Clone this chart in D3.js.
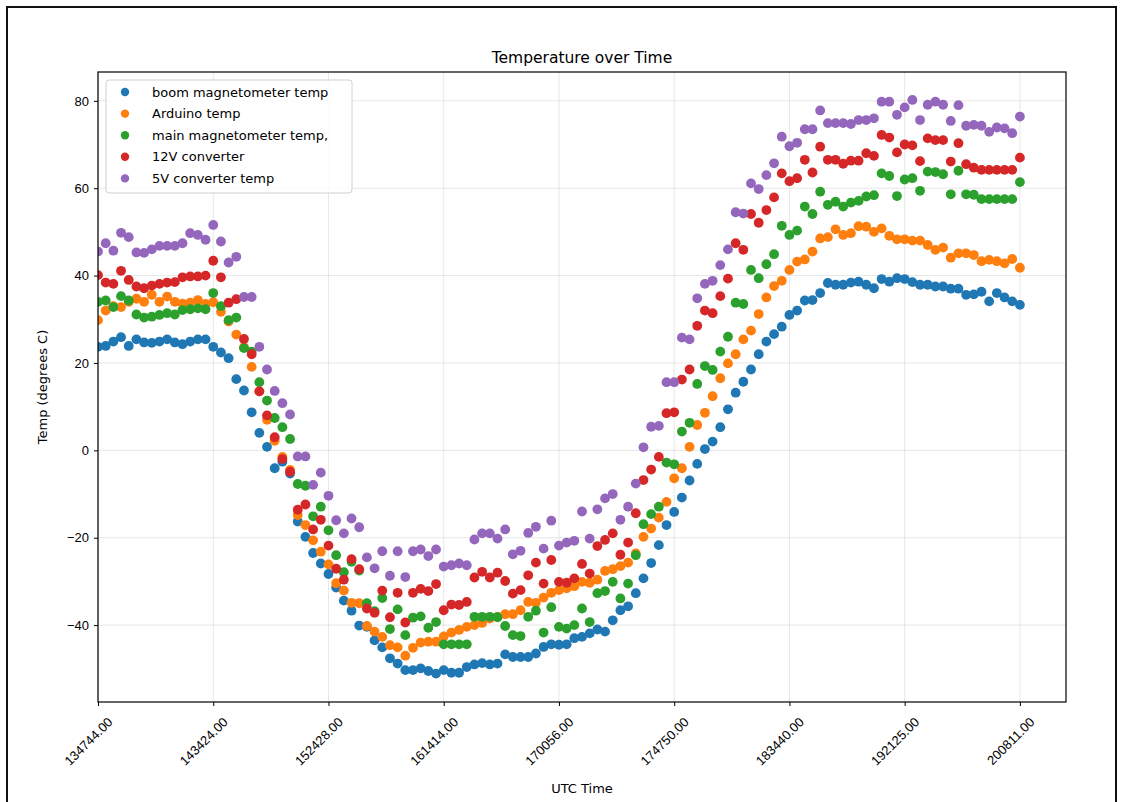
<!DOCTYPE html>
<html>
<head>
<meta charset="utf-8">
<script src="https://cdn.jsdelivr.net/npm/d3@7"></script>
<style>
  body { margin: 0; background: #fff; }
  svg { display: block; font-family: "DejaVu Sans", sans-serif; }
</style>
</head>
<body>
<div id="wrapper"></div>
<script>
// tick labels (UTC time strings), one every 15 samples
const tickLabels = ["134744.00", "143424.00", "152428.00", "161414.00", "170056.00",
    "174750.00", "183440.00", "192125.00", "200811.00"];
const tickEvery = 15;

const seriesNames = ["boom magnetometer temp", "Arduino temp", "main magnetometer temp,",
    "12V converter", "5V converter temp"];
const seriesColors = ["#1f77b4", "#ff7f0e", "#2ca02c", "#d62728", "#9467bd"];

const boomMag = [23.7, 23.9, 24.9, 25.9, 23.9, 25.4, 24.7, 24.6, 24.9, 25.4, 24.7, 24.3, 24.9, 25.4, 25.4,
    23.7, 22.4, 21.1, 16.3, 13.7, 8.7, 4.0, 0.8, -4.1, -2.6, -5.3, -16.3, -19.8, -23.5, -25.9,
    -28.3, -31.4, -34.4, -36.7, -40.1, -40.4, -43.5, -45.1, -47.6, -48.8, -50.3, -50.3, -49.9, -50.5, -51.1,
    -50.3, -50.9, -50.9, -49.6, -49.0, -48.7, -49.0, -48.8, -46.7, -47.3, -47.3, -47.3, -46.5, -45.0, -44.4,
    -44.5, -44.4, -43.0, -42.7, -41.9, -41.0, -41.5, -38.9, -36.6, -35.7, -32.7, -29.3, -25.8, -21.7, -17.1,
    -14.1, -10.8, -6.9, -3.1, 0.3, 2.0, 5.3, 9.4, 13.2, 15.7, 18.5, 22.0, 24.9, 26.6, 28.3,
    31.0, 32.0, 34.3, 34.4, 36.0, 38.3, 37.9, 37.9, 38.4, 38.6, 37.9, 37.1, 39.2, 38.6, 39.4,
    39.2, 38.5, 37.9, 37.9, 37.5, 37.5, 37.0, 37.0, 35.6, 35.7, 36.3, 34.1, 36.0, 35.0, 34.1,
    33.3];

const arduino = [29.8, 32.0, 33.0, 32.8, 34.0, 34.7, 34.0, 35.6, 34.0, 35.2, 34.0, 33.6, 33.8, 34.4, 33.5,
    33.9, 31.7, 29.5, 26.5, 23.6, 19.1, 13.5, 7.0, 2.2, -1.5, -4.5, -14.8, -17.1, -20.6, -23.2,
    -26.1, -30.4, -32.1, -34.9, -35.0, -40.2, -41.5, -42.7, -44.6, -45.1, -47.0, -45.2, -44.0, -43.8, -43.8,
    -42.6, -41.7, -41.1, -40.4, -40.0, -39.5, -38.5, -38.1, -37.5, -37.5, -36.6, -34.7, -34.9, -33.7, -32.6,
    -32.0, -31.6, -31.1, -30.1, -30.3, -29.6, -27.6, -27.2, -26.5, -25.7, -23.6, -19.8, -17.9, -15.4, -11.8,
    -6.4, -4.1, 0.8, 5.8, 8.6, 12.4, 16.5, 19.9, 22.0, 25.4, 27.4, 31.2, 35.0, 37.6, 38.8,
    41.3, 43.2, 43.7, 45.5, 48.5, 48.8, 50.6, 49.3, 49.7, 51.3, 51.2, 50.0, 50.8, 49.1, 48.3,
    48.3, 48.0, 48.0, 47.0, 45.9, 46.4, 44.1, 45.1, 45.1, 44.7, 43.3, 43.6, 43.3, 42.8, 43.8,
    41.8];

const mainMag = [34.0, 34.3, 32.8, 35.3, 34.3, 31.1, 30.4, 30.6, 31.0, 31.4, 31.1, 32.1, 32.3, 32.5, 32.3,
    36.0, 33.0, 29.8, 30.4, 23.4, 22.6, 15.6, 11.4, 7.4, 5.3, 2.6, -7.7, -8.1, -15.1, -12.9,
    -18.3, -24.0, -27.9, -25.5, -27.5, -35.0, -36.8, -33.8, -40.9, -36.4, -42.3, -38.3, -38.0, -40.6, -39.3,
    -44.4, -44.4, -44.4, -44.4, -38.1, -38.1, -38.1, -38.2, -40.2, -42.3, -42.5, -38.1, -36.7, -41.7, -35.9,
    -40.4, -40.8, -40.0, -36.2, -39.3, -32.7, -32.2, -30.1, -33.9, -30.5, -24.0, -16.9, -14.6, -12.9, -2.8,
    -3.2, 4.3, 6.3, 15.2, 19.3, 18.4, 22.6, 26.0, 33.8, 33.5, 41.3, 39.4, 42.6, 44.9, 51.4,
    49.3, 50.3, 55.8, 54.1, 59.2, 56.2, 56.9, 55.8, 56.7, 57.1, 58.1, 58.4, 63.4, 62.8, 58.2,
    62.0, 62.3, 59.4, 63.8, 63.7, 63.2, 58.6, 64.0, 58.6, 58.5, 57.5, 57.5, 57.5, 57.5, 57.5,
    61.4];

const conv12V = [40.1, 38.4, 38.1, 41.1, 39.0, 37.5, 37.1, 37.7, 38.1, 38.4, 38.5, 39.6, 39.8, 39.8, 40.0,
    43.4, 39.6, 33.8, 34.6, 25.5, 22.0, 13.5, 8.0, 3.0, -2.0, -4.9, -13.6, -12.4, -18.1, -15.9,
    -21.8, -27.1, -29.6, -24.9, -27.2, -36.2, -37.2, -32.1, -38.2, -32.6, -39.4, -32.6, -31.7, -32.2, -30.6,
    -36.6, -35.3, -35.4, -34.7, -29.1, -27.8, -29.1, -28.0, -29.9, -32.8, -32.0, -28.6, -25.7, -30.5, -25.1,
    -30.1, -30.3, -29.3, -26.0, -28.2, -21.9, -20.5, -19.0, -23.9, -21.1, -14.4, -6.8, -4.4, -1.5, 8.5,
    8.7, 16.2, 18.5, 28.5, 32.0, 31.4, 35.3, 39.3, 47.4, 45.9, 54.1, 52.1, 55.0, 57.9, 63.4,
    61.6, 62.3, 66.5, 63.6, 69.5, 66.5, 66.5, 65.6, 66.3, 66.3, 68.0, 67.4, 72.2, 71.6, 68.2,
    70.0, 69.8, 66.2, 71.4, 71.0, 71.0, 66.1, 70.3, 65.5, 64.7, 64.2, 64.2, 64.2, 64.2, 64.2,
    67.0];

const conv5V = [45.5, 47.4, 45.7, 49.8, 48.8, 45.3, 45.2, 46.0, 46.8, 46.8, 46.8, 47.4, 49.7, 49.3, 48.2,
    51.6, 47.8, 43.0, 44.3, 35.1, 35.1, 23.7, 18.5, 13.6, 10.8, 8.2, -1.4, -1.4, -7.9, -5.1,
    -10.4, -16.0, -19.0, -15.6, -17.6, -24.5, -27.0, -23.1, -28.7, -23.1, -29.0, -23.1, -22.7, -24.2, -22.7,
    -26.6, -26.3, -25.9, -26.3, -20.4, -19.0, -19.0, -20.2, -18.1, -23.8, -23.0, -18.9, -17.5, -22.5, -16.1,
    -21.8, -21.1, -20.7, -14.0, -20.2, -13.5, -11.0, -10.0, -15.9, -12.9, -7.6, 0.7, 5.4, 5.6, 15.6,
    15.6, 25.8, 25.4, 34.8, 38.1, 38.8, 42.4, 46.0, 54.5, 54.2, 61.1, 59.8, 63.0, 65.7, 71.8,
    69.6, 70.4, 73.5, 73.5, 77.8, 74.9, 74.9, 74.9, 74.7, 75.6, 75.6, 76.0, 79.8, 79.8, 76.8,
    78.5, 80.2, 75.6, 79.1, 79.8, 79.1, 75.4, 79.0, 74.3, 74.5, 74.3, 72.9, 73.9, 73.7, 72.6,
    76.4];

const yTicks = [-40, -20, 0, 20, 40, 60, 80];

function buildPlot() {
    const allSeries = [boomMag, arduino, mainMag, conv12V, conv5V];

    const dimension = {
        width: 1122,
        height: 802,
        margin: { top: 72, left: 98, bottom: 100, right: 56 }
    };
    dimension.boundedWidth = dimension.width - dimension.margin.left - dimension.margin.right;
    dimension.boundedHeight = dimension.height - dimension.margin.top - dimension.margin.bottom;

    const svg = d3.select("#wrapper").append("svg")
        .attr("width", dimension.width)
        .attr("height", dimension.height);

    // outer frame of the screenshot
    svg.append("rect")
        .attr("x", 7).attr("y", 7)
        .attr("width", 1109).attr("height", 805)
        .attr("fill", "none")
        .attr("stroke", "#111")
        .attr("stroke-width", 2);

    const bounded = svg.append("g")
        .attr("transform", `translate(${dimension.margin.left}, ${dimension.margin.top})`);

    const n = boomMag.length;
    // matplotlib: left limit at 0, default 5% margin on the right
    const xScaler = d3.scaleLinear()
        .domain([0, (n - 1) * 1.05])
        .range([0, dimension.boundedWidth]);

    const yScaler = d3.scaleLinear()
        .domain([-57.6, 86.6])
        .range([dimension.boundedHeight, 0]);

    const xTickValues = tickLabels.map((d, i) => i * tickEvery);

    // grid
    bounded.append("g")
        .selectAll("line")
        .data(xTickValues)
        .join("line")
        .attr("x1", d => xScaler(d)).attr("x2", d => xScaler(d))
        .attr("y1", 0).attr("y2", dimension.boundedHeight)
        .attr("stroke", "#b0b0b0").attr("stroke-opacity", 0.3).attr("stroke-width", 1);

    bounded.append("g")
        .selectAll("line")
        .data(yTicks)
        .join("line")
        .attr("x1", 0).attr("x2", dimension.boundedWidth)
        .attr("y1", d => yScaler(d)).attr("y2", d => yScaler(d))
        .attr("stroke", "#b0b0b0").attr("stroke-opacity", 0.3).attr("stroke-width", 1);

    svg.append("clipPath").attr("id", "plotClip")
        .append("rect")
        .attr("width", dimension.boundedWidth)
        .attr("height", dimension.boundedHeight);

    const dots = bounded.append("g").attr("clip-path", "url(#plotClip)");
    allSeries.forEach((values, k) => {
        dots.append("g")
            .selectAll("circle")
            .data(values)
            .join("circle")
            .attr("cx", (d, i) => xScaler(i))
            .attr("cy", d => yScaler(d))
            .attr("r", 4.9)
            .attr("fill", seriesColors[k]);
    });

    // axes
    const xAxis = d3.axisBottom(xScaler)
        .tickValues(xTickValues)
        .tickFormat((d, i) => tickLabels[i])
        .tickSize(4)
        .tickPadding(4);

    const yAxis = d3.axisLeft(yScaler)
        .tickValues(yTicks)
        .tickSize(4)
        .tickPadding(5);

    const gx = bounded.append("g")
        .attr("transform", `translate(0, ${dimension.boundedHeight})`)
        .call(xAxis);
    gx.select(".domain").remove();
    gx.selectAll("text")
        .attr("font-size", 13)
        .attr("fill", "#000")
        .attr("text-anchor", "end")
        .attr("dy", "0.35em")
        .attr("transform", "translate(6, 12) rotate(-45)");

    const gy = bounded.append("g").call(yAxis);
    gy.select(".domain").remove();
    gy.selectAll("text").attr("font-size", 13).attr("fill", "#000");

    // spines
    bounded.append("rect")
        .attr("width", dimension.boundedWidth)
        .attr("height", dimension.boundedHeight)
        .attr("fill", "none")
        .attr("stroke", "#000")
        .attr("stroke-width", 1.2);

    // title and labels
    svg.append("text")
        .attr("x", dimension.margin.left + dimension.boundedWidth / 2)
        .attr("y", 63)
        .attr("text-anchor", "middle")
        .attr("font-size", 15.5)
        .text("Temperature over Time");

    svg.append("text")
        .attr("x", dimension.margin.left + dimension.boundedWidth / 2)
        .attr("y", 793)
        .attr("text-anchor", "middle")
        .attr("font-size", 13)
        .text("UTC Time");

    svg.append("text")
        .attr("transform", `translate(47, ${dimension.margin.top + dimension.boundedHeight / 2}) rotate(-90)`)
        .attr("text-anchor", "middle")
        .attr("font-size", 13)
        .text("Temp (degrees C)");

    // legend
    const legend = svg.append("g").attr("transform", "translate(106, 80)");
    legend.append("rect")
        .attr("width", 246).attr("height", 113)
        .attr("rx", 3)
        .attr("fill", "#fff").attr("fill-opacity", 0.8)
        .attr("stroke", "#d0d0d0");
    const rows = legend.selectAll("g.row")
        .data(seriesNames)
        .join("g")
        .attr("class", "row")
        .attr("transform", (d, i) => `translate(0, ${12 + i * 21.6})`);
    rows.append("circle")
        .attr("cx", 19).attr("cy", 0).attr("r", 4.2)
        .attr("fill", (d, i) => seriesColors[i]);
    rows.append("text")
        .attr("x", 46).attr("y", 0)
        .attr("dy", "0.35em")
        .attr("font-size", 13)
        .text(d => d);
}

buildPlot();
</script>
</body>
</html>
